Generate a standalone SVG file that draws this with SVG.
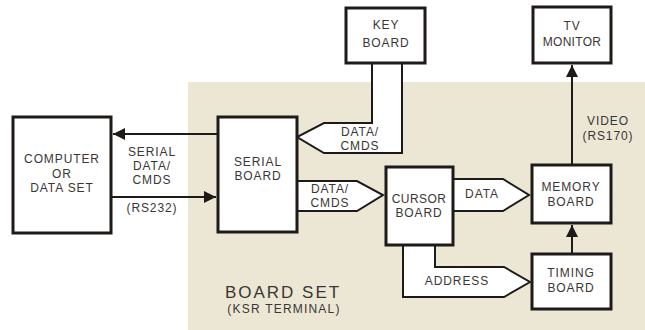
<svg xmlns="http://www.w3.org/2000/svg" width="645" height="330" viewBox="0 0 645 330">
<style>
.box{fill:#fff;stroke:#1e1a18;stroke-width:3}
.hollow{fill:#fff;stroke:#1e1a18;stroke-width:2;stroke-linejoin:miter}
.line{stroke:#1e1a18;stroke-width:2;fill:none}
text{font-family:"Liberation Sans",Arial,sans-serif;font-size:12px;fill:#3a3634;text-anchor:middle;letter-spacing:0.9px}
.big{font-size:17px;letter-spacing:2px}
.small{font-size:12px;letter-spacing:1.2px}
</style>
<defs>
<marker id="ah" viewBox="0 0 10 10" refX="10" refY="5" markerWidth="6" markerHeight="6" orient="auto" markerUnits="strokeWidth">
<path d="M0,0 L10,5 L0,10 z" fill="#1e1a18"/>
</marker>
</defs>
<rect x="0" y="0" width="645" height="330" fill="#fff"/>
<rect id="board-set-bg" x="188" y="82" width="457" height="248" fill="#ece7d4"/>

<g id="connectors">
<line class="line" x1="218" y1="134" x2="113" y2="134" marker-end="url(#ah)"/>
<line class="line" x1="111" y1="197" x2="216" y2="197" marker-end="url(#ah)"/>
<polygon class="hollow" points="372,63 372,123 324,123 297,137 324,153 402,153 402,63"/>
<polygon class="hollow" points="297,181 357,181 383,195 357,211 297,211"/>
<polygon class="hollow" points="453,179 503,179 529,195 503,211 453,211"/>
<polygon class="hollow" points="435,245 435,267 504,267 530,282 504,297 403,297 403,245"/>
<line class="line" x1="572" y1="165" x2="572" y2="65" marker-end="url(#ah)"/>
<line class="line" x1="572" y1="254" x2="572" y2="225" marker-end="url(#ah)"/>
<text x="360" y="136">DATA/</text>
<text x="360" y="150">CMDS</text>
<text x="330" y="193">DATA/</text>
<text x="330" y="207">CMDS</text>
<text x="482" y="198">DATA</text>
<text x="457" y="285">ADDRESS</text>
<text x="152" y="156">SERIAL</text>
<text x="152" y="170">DATA/</text>
<text x="152" y="184">CMDS</text>
<text x="152" y="212">(RS232)</text>
<text x="608" y="125">VIDEO</text>
<text x="608" y="140">(RS170)</text>
</g>

<g id="computer">
<rect class="box" x="13" y="117" width="98" height="116"/>
<text x="62" y="163">COMPUTER</text>
<text x="62" y="178">OR</text>
<text x="62" y="192">DATA SET</text>
</g>
<g id="serial-board">
<rect class="box" x="218" y="117" width="79" height="115"/>
<text x="258" y="166">SERIAL</text>
<text x="258" y="180">BOARD</text>
</g>
<g id="keyboard">
<rect class="box" x="346" y="8" width="79" height="55"/>
<text x="386" y="29">KEY</text>
<text x="386" y="47">BOARD</text>
</g>
<g id="cursor-board">
<rect class="box" x="386" y="167" width="67" height="78"/>
<text x="419" y="203" style="letter-spacing:0.4px">CURSOR</text>
<text x="419" y="217">BOARD</text>
</g>
<g id="memory-board">
<rect class="box" x="532" y="165" width="79" height="58"/>
<text x="571" y="191">MEMORY</text>
<text x="571" y="206">BOARD</text>
</g>
<g id="timing-board">
<rect class="box" x="532" y="254" width="79" height="55"/>
<text x="571" y="277">TIMING</text>
<text x="571" y="292">BOARD</text>
</g>
<g id="tv-monitor">
<rect class="box" x="533" y="7" width="78" height="56"/>
<text x="572" y="30">TV</text>
<text x="572" y="46" style="letter-spacing:0.3px">MONITOR</text>
</g>
<g id="board-set-label">
<text class="big" x="283" y="298">BOARD SET</text>
<text class="small" x="284" y="313">(KSR TERMINAL)</text>
</g>
</svg>
